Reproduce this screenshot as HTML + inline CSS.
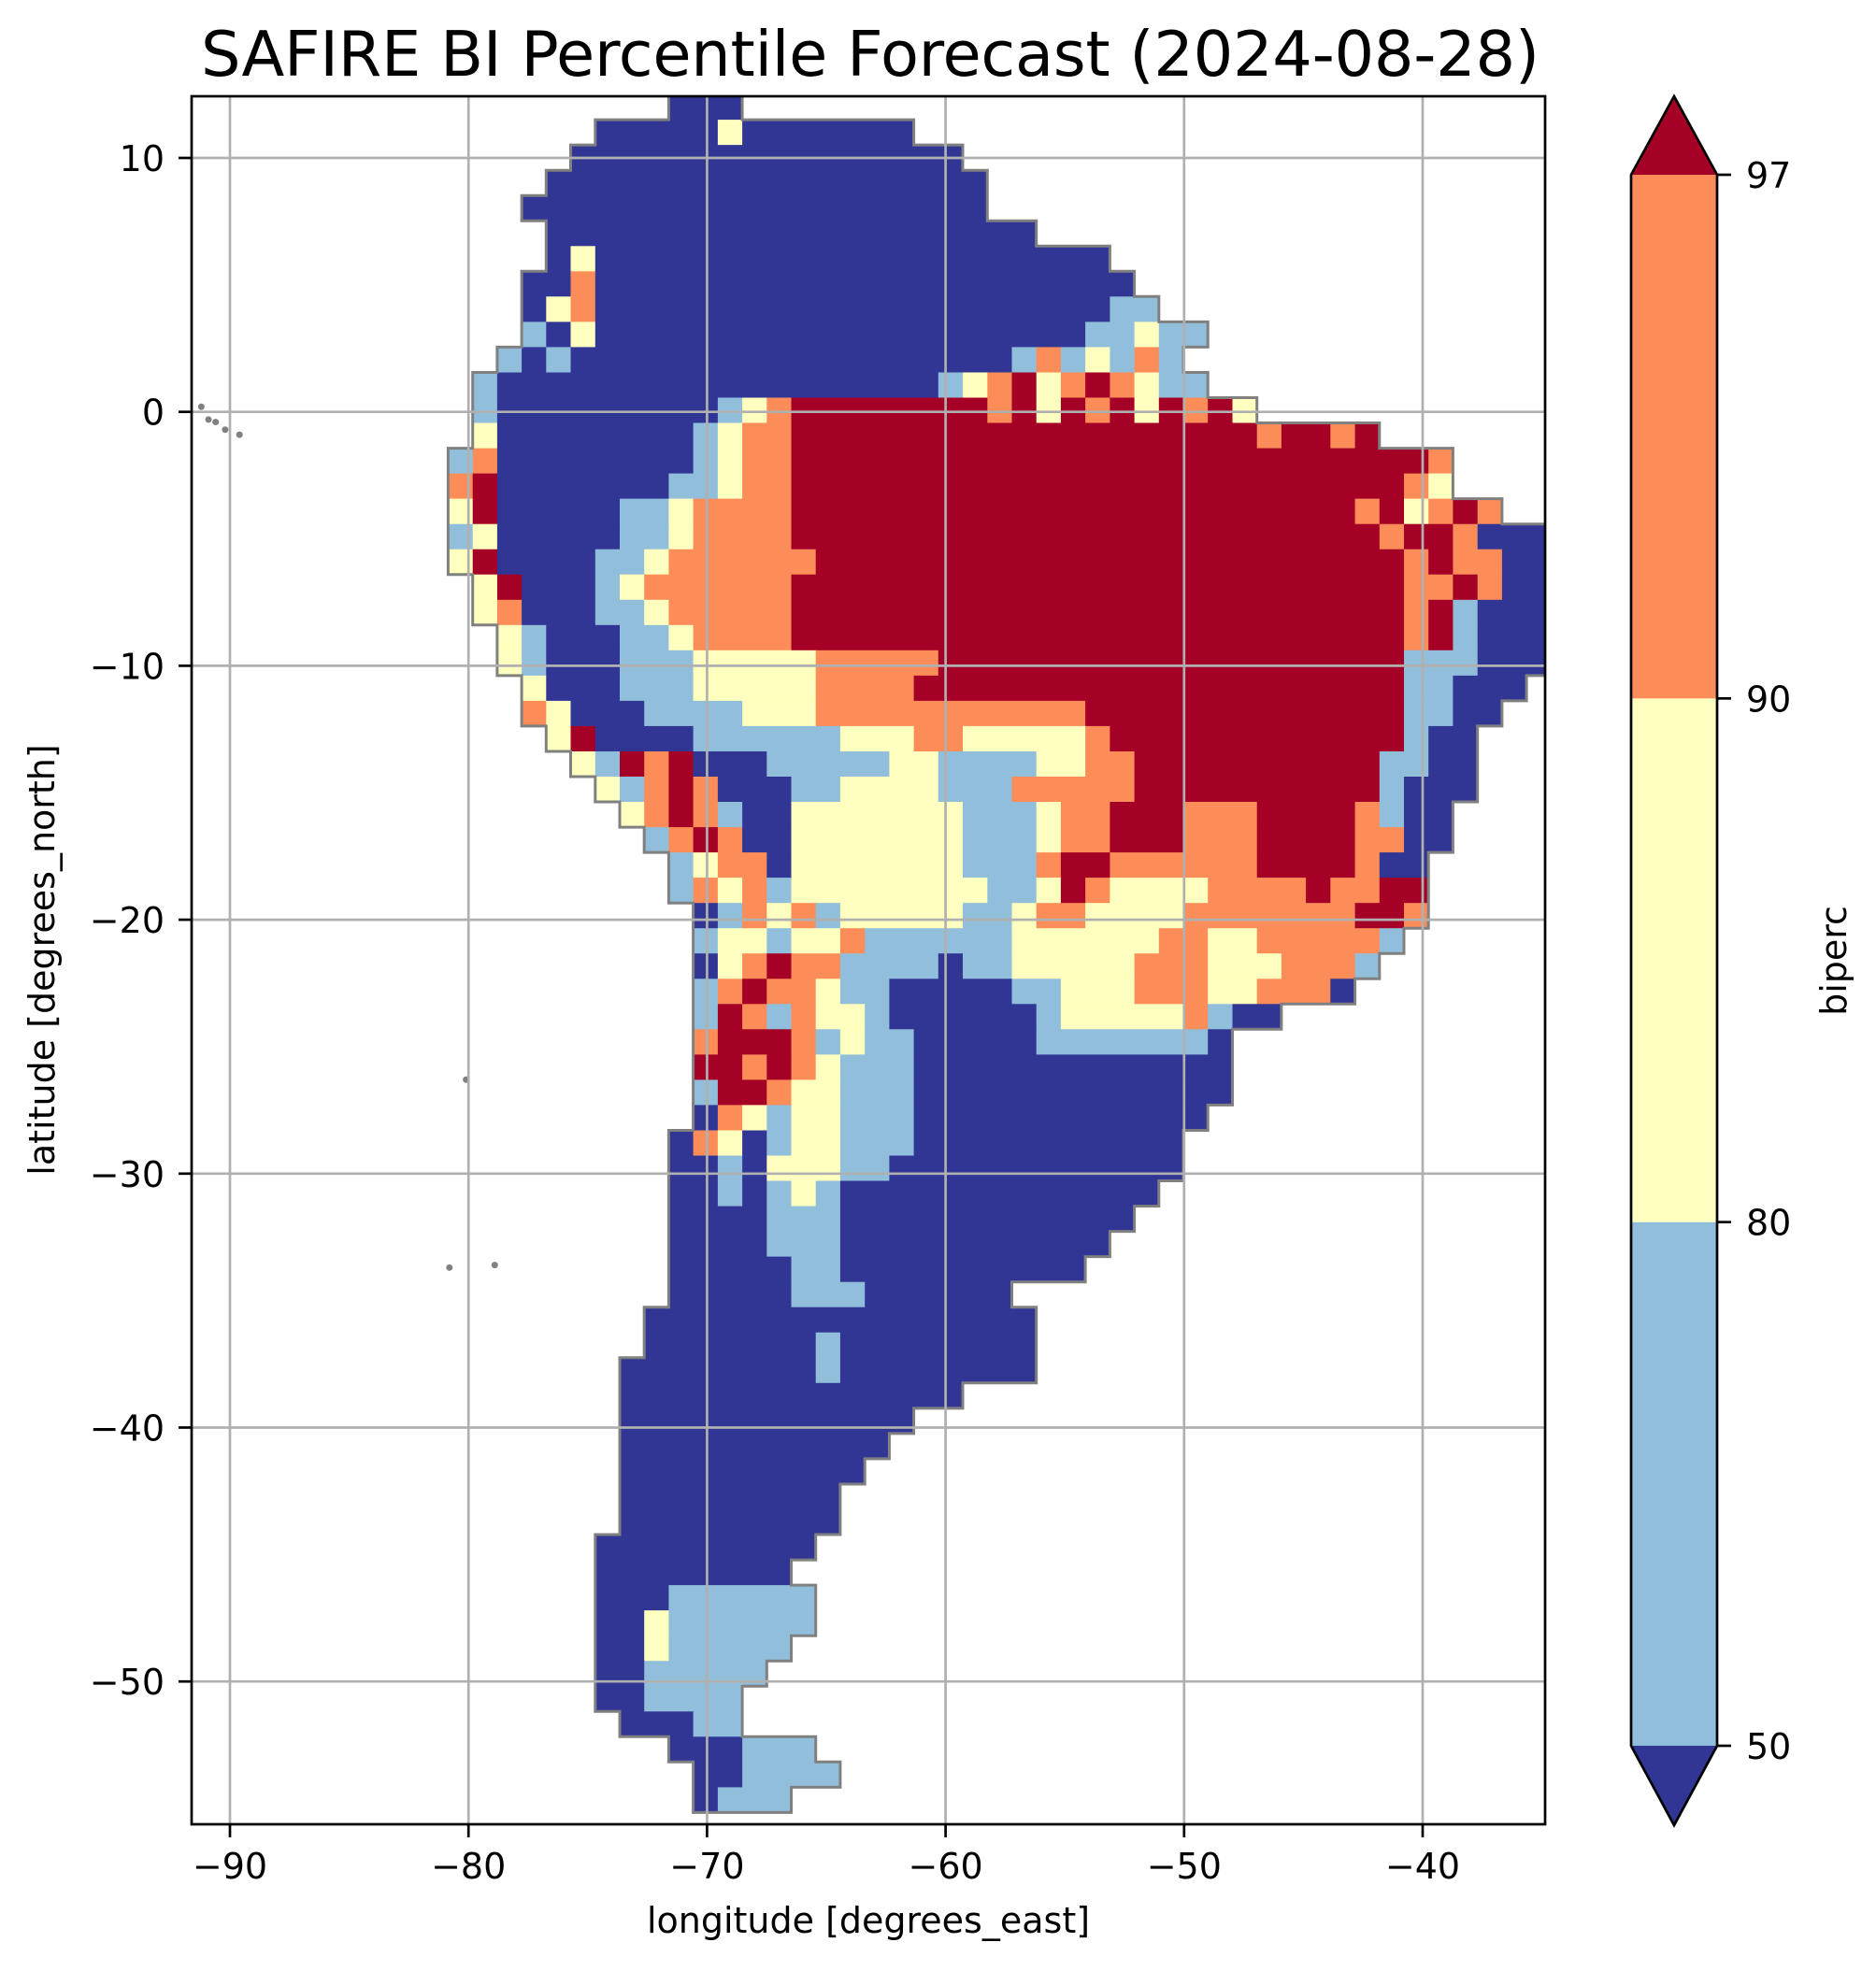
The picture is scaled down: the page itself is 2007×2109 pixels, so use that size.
<!DOCTYPE html>
<html><head><meta charset="utf-8"><style>
html,body{margin:0;padding:0;background:#fff;}
svg{display:block;font-family:"DejaVu Sans","Liberation Sans",sans-serif;}
</style></head><body>
<svg id="fig" width="2007" height="2109" viewBox="0 0 2007 2109" xmlns="http://www.w3.org/2000/svg">
<defs><clipPath id="axclip"><rect x="205" y="103" width="1448" height="1849"/></clipPath></defs>
<rect x="0" y="0" width="2007" height="2109" fill="#fff"/>
<text x="215" y="81" font-size="67" textLength="1432">SAFIRE BI Percentile Forecast (2024-08-28)</text>
<g id="map" clip-path="url(#axclip)"></g>
<g id="coast" clip-path="url(#axclip)"></g>
<g id="grid" clip-path="url(#axclip)"></g>
<rect x="205" y="103" width="1448" height="1849" fill="none" stroke="#000" stroke-width="2.7"/>
<g id="xticks"></g>
<g id="yticks"></g>
<text x="929" y="2068" font-size="38" text-anchor="middle">longitude [degrees_east]</text>
<text transform="translate(58,1027) rotate(-90)" font-size="38" text-anchor="middle">latitude [degrees_north]</text>
<g id="cbar"></g>
<text transform="translate(1975,1028) rotate(-90)" font-size="38" text-anchor="middle">biperc</text>
</svg>
<script>
// ---- data ----
const lonTicks = [-90, -80, -70, -60, -50, -40];
const latTicks = [10, 0, -10, -20, -30, -40, -50];
const cbarLevels = [50, 80, 90, 97];
const cbarColors = ["#313695", "#91bfdb", "#ffffbf", "#fc8d59", "#a50026"];
const categoryCodes = ["D", "L", "Y", "O", "R"];
const islandLons = [-91.2, -90.6, -90.2, -89.6, -90.9, -80.1, -78.9, -80.8];
const islandLats = [0.2, -0.4, -0.7, -0.9, -0.3, -26.3, -33.6, -33.7];
const gridLon0 = -81.88;
const gridDLon = 1.0274;
const gridLat0 = 12.5;
const gridDLat = 0.995;
const gridRows = [
"10. 3D",
"7. 5D Y 7D",
"6. 16D",
"5. 18D",
"4. 19D",
"5. 20D",
"5. D Y 21D",
"4. 2D O 22D",
"4. D Y O 21D 2L",
"4. L D Y 20D 2L Y 2L",
"3. L D L 18D L O L Y L O L",
"2. L 18D L Y O R Y O R O Y 2L",
"2. L 9D L Y O 8R O R Y R O R Y R O R Y",
"2. Y 8D L Y 2O 19R O 2R O R",
"1. L O 8D L Y 2O 26R O",
"1. O R 7D 2L Y 2O 25R O Y",
"1. Y R 5D 2L Y 4O 23R O R Y O R O",
"1. L Y 5D 2L Y 4O 24R O 2R O 3D",
"1. Y R 4D 2L Y 6O 24R O R 2O 2D",
"2. Y R 3D L Y 6O 25R 2O R O 2D",
"2. Y O 3D 2L Y 5O 25R O R L 3D",
"3. Y L 3D 2L Y 4O 25R O R L 3D",
"3. Y L 3D 3L 5Y 5O 19R 3L 3D",
"4. Y 3D 3L 5Y 4O 20R 2L 3D",
"4. O Y 3D 4L 3Y 11O 13R 2L 2D",
"5. Y R 4D 6L 3Y 2O 5Y O 12R L 2D",
"6. Y L R O R 3D 5L 2Y 4L 2Y 2O 10R 2L 2D",
"7. Y L O R O 3D 2L 4Y 3L 5O 10R L 3D",
"8. Y O R O L 2D 7Y 3L Y 2O 3R 3O 4R O L 2D",
"9. L O R O 2D 7Y 3L Y 2O 3R 3O 4R 2O 2D",
"10. L Y 2O D 7Y 3L O 2R 6O 4R O 2D",
"10. L O Y O L 8Y 2L Y R O 4Y 4O R 2O 2R",
"11. D L O Y O L 5Y 2L Y 2O 4Y 7O 2R O",
"11. L 2Y L 2Y O 6L 6Y 2O 2Y 5O L",
"11. D Y O R 2O 4L D 2L 5Y 3O 3Y 3O L",
"11. L O R 2O Y 2L 5D 2L 3Y 3O 2Y 3O D",
"11. L R O L O 2Y L 6D L 5Y O L 2D",
"11. O 3R O L Y 2L 5D 7L D",
"11. 2R O R O Y 3L 13D",
"11. L 2R O 2Y 3L 13D",
"11. D O Y L 2Y 3L 12D",
"10. D O Y D L 2Y 3L 11D",
"10. 2D L D 3Y 2L 12D",
"10. 2D L D L Y L 13D",
"10. 4D 3L 12D",
"10. 4D 3L 11D",
"10. 5D 2L 10D",
"10. 5D 3L 6D",
"9. 16D",
"9. 7D L 8D",
"8. 8D L 8D",
"8. 14D",
"8. 12D",
"8. 11D",
"8. 10D",
"8. 9D",
"8. 9D",
"7. 9D",
"7. 8D",
"7. 3D 6L",
"7. 2D Y 6L",
"7. 2D Y 5L",
"7. 2D 5L",
"7. 2D 4L",
"8. 3D 2L",
"10. 3D 3L",
"11. 2D 4L",
"11. D 3L"
];
// ---- scales ----
const AX = {left:205, right:1653, top:103, bottom:1952};
function xScale(lon){ return 246 + (lon + 90) * 25.52; }
function yScale(lat){ return 169 - (lat - 10) * 27.17; }
function cbY(level){ const i = cbarLevels.indexOf(level); return 1868 - i * (1868 - 187) / (cbarLevels.length - 1); }
const NS = "http://www.w3.org/2000/svg";
function mk(tag, attrs, parent){ const e = document.createElementNS(NS, tag); for (const k in attrs) e.setAttribute(k, attrs[k]); parent.appendChild(e); return e; }

// ---- map raster ----
const mapG = document.getElementById("map");
const occ = [];
gridRows.forEach(function(row, r){
  let c = 0;
  occ[r] = [];
  row.split(" ").forEach(function(tok){
    const m = tok.match(/^(\d*)(.)$/);
    const n = m[1] ? parseInt(m[1], 10) : 1;
    const code = m[2];
    const k = categoryCodes.indexOf(code);
    if (k >= 0) {
      for (let j = c; j < c + n; j++) occ[r][j] = true;
      const lonA = gridLon0 + c * gridDLon, lonB = gridLon0 + (c + n) * gridDLon;
      const latA = gridLat0 - r * gridDLat, latB = gridLat0 - (r + 1) * gridDLat;
      const x0 = xScale(lonA), x1 = xScale(lonB), y0 = yScale(latA), y1 = yScale(latB);
      const rect = mk("rect", {x: x0.toFixed(1), y: y0.toFixed(1), width: (x1 - x0 + 0.6).toFixed(1), height: (y1 - y0 + 0.6).toFixed(1), fill: cbarColors[k]}, mapG);
      
      
    }
    c += n;
  });
});

// ---- coastline (edges between land and empty cells) ----
const coastG = document.getElementById("coast");
let d = "";
function isLand(r, c){ return !!(occ[r] && occ[r][c]); }
for (let r = 0; r < occ.length; r++) {
  for (let c = 0; c < 60; c++) {
    if (!isLand(r, c)) continue;
    const x0 = xScale(gridLon0 + c * gridDLon), x1 = xScale(gridLon0 + (c + 1) * gridDLon);
    const y0 = yScale(gridLat0 - r * gridDLat), y1 = yScale(gridLat0 - (r + 1) * gridDLat);
    if (!isLand(r - 1, c)) d += "M" + x0.toFixed(1) + " " + y0.toFixed(1) + "H" + x1.toFixed(1);
    if (!isLand(r + 1, c)) d += "M" + x0.toFixed(1) + " " + y1.toFixed(1) + "H" + x1.toFixed(1);
    if (!isLand(r, c - 1)) d += "M" + x0.toFixed(1) + " " + y0.toFixed(1) + "V" + y1.toFixed(1);
    if (!isLand(r, c + 1)) d += "M" + x1.toFixed(1) + " " + y0.toFixed(1) + "V" + y1.toFixed(1);
  }
}
const coastPath = mk("path", {d: d, fill: "none", stroke: "#808080", "stroke-width": 3, "stroke-linecap": "square"}, coastG);


islandLons.forEach(function(lon, i){
  const dot = mk("circle", {cx: xScale(lon), cy: yScale(islandLats[i]), r: 3.5, fill: "#808080"}, coastG);
  
  
});

// ---- gridlines & ticks ----
const gridG = document.getElementById("grid");
const xt = document.getElementById("xticks");
const yt = document.getElementById("yticks");
lonTicks.forEach(function(v){
  const x = xScale(v);
  const gl = mk("line", {x1:x, x2:x, y1:AX.top, y2:AX.bottom, stroke:"#b0b0b0", "stroke-width":2.7}, gridG);
  
  
  const tk = mk("line", {x1:x, x2:x, y1:AX.bottom, y2:AX.bottom + 14, stroke:"#000", "stroke-width":2.7}, xt);
  
  
  const t = mk("text", {x:x, y:2010, "font-size":38, "text-anchor":"middle"}, xt);
  t.textContent = "\u2212" + Math.abs(v);
  
  
});
latTicks.forEach(function(v){
  const y = yScale(v);
  const gl = mk("line", {x1:AX.left, x2:AX.right, y1:y, y2:y, stroke:"#b0b0b0", "stroke-width":2.7}, gridG);
  
  
  const tk = mk("line", {x1:AX.left - 14, x2:AX.left, y1:y, y2:y, stroke:"#000", "stroke-width":2.7}, yt);
  
  
  const t = mk("text", {x:176, y:y + 14, "font-size":38, "text-anchor":"end"}, yt);
  t.textContent = v < 0 ? "\u2212" + Math.abs(v) : String(v);
  
  
});

// ---- colorbar ----
const cb = document.getElementById("cbar");
const cbL = 1745, cbR = 1837, cbMid = (cbL + cbR) / 2;
const topTri = mk("polygon", {points: cbL + "," + cbY(97) + " " + cbMid + ",103 " + cbR + "," + cbY(97), fill: cbarColors[4]}, cb);


for (let i = 0; i < cbarLevels.length - 1; i++) {
  const yA = cbY(cbarLevels[i + 1]), yB = cbY(cbarLevels[i]);
  const seg = mk("rect", {x:cbL, y:yA, width:cbR - cbL, height:yB - yA, fill:cbarColors[i + 1]}, cb);
  
  
}
const botTri = mk("polygon", {points: cbL + "," + cbY(50) + " " + cbMid + ",1953 " + cbR + "," + cbY(50), fill: cbarColors[0]}, cb);


const outline = mk("polygon", {points: cbL + "," + cbY(97) + " " + cbMid + ",103 " + cbR + "," + cbY(97) + " " + cbR + "," + cbY(50) + " " + cbMid + ",1953 " + cbL + "," + cbY(50), fill:"none", stroke:"#000", "stroke-width":2.7}, cb);


cbarLevels.forEach(function(v){
  const y = cbY(v);
  const tk = mk("line", {x1:cbR, x2:cbR + 15, y1:y, y2:y, stroke:"#000", "stroke-width":2.7}, cb);
  
  
  const t = mk("text", {x:1868, y:y + 14, "font-size":38}, cb);
  t.textContent = String(v);
  
  
});
</script>
</body></html>
